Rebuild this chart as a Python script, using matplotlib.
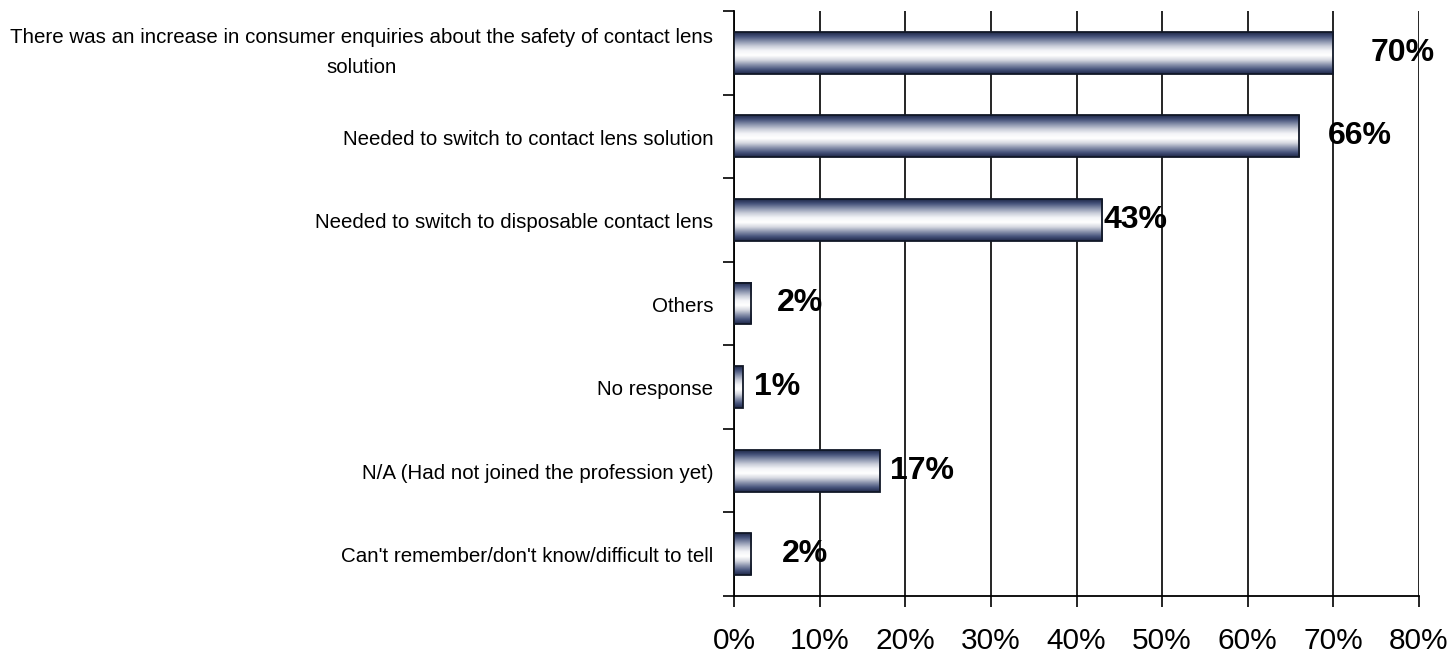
import matplotlib.pyplot as plt
import numpy as np
from matplotlib.colors import LinearSegmentedColormap

# survey answers, top to bottom
categories = [
    "There was an increase in consumer enquiries about the safety of contact lens\nsolution",
    "Needed to switch to contact lens solution",
    "Needed to switch to disposable contact lens",
    "Others",
    "No response",
    "N/A (Had not joined the profession yet)",
    "Can't remember/don't know/difficult to tell",
]
values = [70, 66, 43, 2, 1, 17, 2]
value_labels = ["70%", "66%", "43%", "2%", "1%", "17%", "2%"]
x_ticks = [0, 10, 20, 30, 40, 50, 60, 70, 80]
x_tick_labels = ["0%", "10%", "20%", "30%", "40%", "50%", "60%", "70%", "80%"]

# label nudges (in % units) to mimic the original placement
label_nudge = [4.3, 3.3, 0.2, 3.0, 1.3, 1.2, 3.6]

BAR_H = 0.5
DARK = "#1e2747"

font = ["Liberation Sans", "DejaVu Sans"]

fig = plt.figure(figsize=(14.53, 6.54), dpi=100)
ax = fig.add_axes([0.5052, 0.0887, 0.4714, 0.8945])

# cylinder-like vertical gradient: dark edges, white centre
grad_cmap = LinearSegmentedColormap.from_list(
    "cyl", [DARK, "#48557d", "#8a93ad", "#c9cdd9", "#f4f5f8", "#ffffff",
            "#d5d8e1", "#8a93ad", "#48557d", DARK]
)
grad = np.linspace(0, 1, 256).reshape(-1, 1)

ypos = np.arange(len(values))
for y, v in zip(ypos, values):
    ax.imshow(grad, cmap=grad_cmap, aspect="auto", interpolation="bilinear",
              extent=[0, v, y + BAR_H / 2, y - BAR_H / 2], zorder=3)
    ax.add_patch(plt.Rectangle((0, y - BAR_H / 2), v, BAR_H, fill=False,
                               edgecolor="#111827", linewidth=1.3, zorder=4))

for y, v, lab, dx in zip(ypos, values, value_labels, label_nudge):
    ax.text(v + dx, y, lab, ha="left", va="center", fontsize=23, fontweight="bold",
            family=font, color="black", zorder=5)

ax.set_xlim(0, 80)
ax.set_ylim(len(values) - 0.5, -0.5)

ax.set_xticks(x_ticks)
ax.set_xticklabels(x_tick_labels, fontsize=21.5, family=font)
ax.tick_params(axis="x", direction="out", length=8, width=1.2, pad=14, color="black")

# boundary ticks on the y axis, category labels centred on the bars
ax.set_yticks(np.arange(len(values) + 1) - 0.5)
ax.set_yticklabels([])
ax.tick_params(axis="y", which="major", direction="out", length=8, width=1.2, color="black")
for y, cat in zip(ypos, categories):
    dy = 0 if "\n" in cat else -2
    ax.annotate(cat, xy=(0, y), xycoords=("axes fraction", "data"),
                xytext=(-15, dy), textcoords="offset points",
                ha="right", va="center", multialignment="center",
                linespacing=1.75, fontsize=14.8, family=font)

ax.grid(axis="x", color="black", linewidth=1.2, zorder=1)
ax.set_axisbelow(True)
for side in ["top", "right"]:
    ax.spines[side].set_visible(False)
for side in ["left", "bottom"]:
    ax.spines[side].set_linewidth(1.3)
    ax.spines[side].set_color("black")

fig.savefig("out.png", dpi=100)
